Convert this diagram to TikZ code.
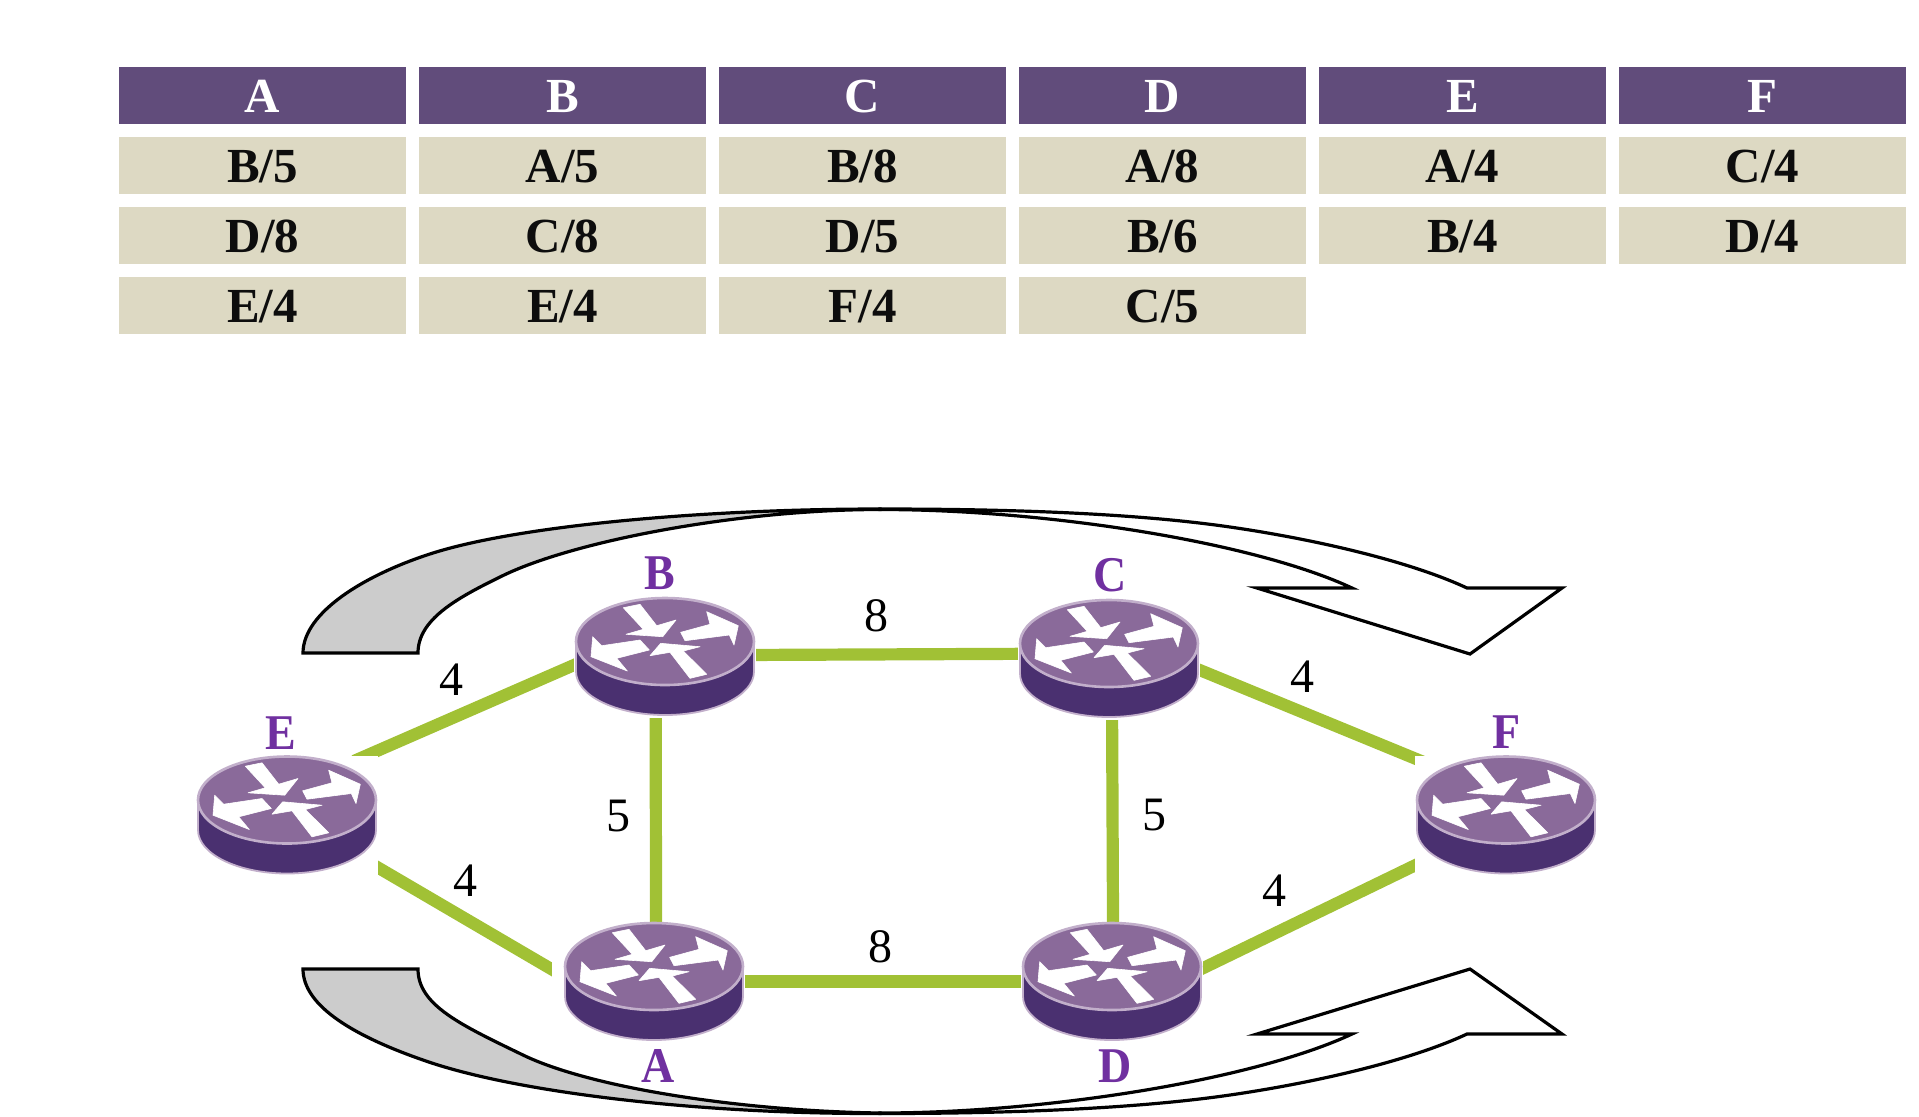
\documentclass[tikz,border=0pt]{standalone}
\usepackage{graphicx}
\usepackage{fontspec}
\setmainfont{Liberation Serif}
\definecolor{headfill}{HTML}{614C7B}
\definecolor{cellfill}{HTML}{DDD9C3}
\definecolor{linkgreen}{HTML}{A1C135}
\definecolor{namepurple}{HTML}{7030A0}
\definecolor{discside}{HTML}{4A3070}
\definecolor{disctop}{HTML}{8A6A9A}
\definecolor{discrim}{HTML}{C2AFCB}
\tikzset{
  x=0.5pt, y=-0.5pt,
  tablecell/.style={rectangle, minimum width=143.5pt, minimum height=28.5pt, inner sep=0pt,
    text height=17.4pt, text depth=0pt, font=\fontsize{24.5}{24.5}\selectfont\bfseries},
  headcell/.style={tablecell, fill=headfill, text=white},
  bodycell/.style={tablecell, fill=cellfill, text=black!95},
  routerbox/.style={rectangle, minimum width=89pt, minimum height=58.5pt, inner sep=0pt},
  link/.style={draw=linkgreen, line width=6.1pt},
  reach/.style={shorten <=-6pt, shorten >=-6pt},
  routername/.style={inner sep=0pt, text=namepurple, font=\fontsize{25}{25}\selectfont\bfseries},
  weight/.style={inner sep=0pt, font=\fontsize{24}{24}\selectfont},
  sweep/.style={draw=black, line width=1.6pt, line join=miter},
  routerdisc/.pic={
    \path[fill=white] (-91,-44) rectangle (91,76.5);
    \path[fill=discside, draw=discrim, line width=0.9pt]
      (-89,0) -- (-89,30) .. controls (-89,54) and (-49,73.5) .. (0,73.5)
      .. controls (49,73.5) and (89,54) .. (89,30) -- (89,0) -- cycle;
    \path[fill=disctop, draw=discrim, line width=1.3pt] (0,0) ellipse[x radius=89, y radius=43.5];
    \path[fill=white, draw=white, line width=0.3pt, line join=round]
      (-41.7,-33.8) -- (-25,-37.2) -- (-8.3,-15.8) -- (11,-21.5) -- (-2.3,-4.8) -- (-39,-7.2) -- (-21.7,-12.2) -- cycle
      (15.7,-9.2) -- (45,-17.2) -- (41.7,-29.8) -- (73.3,-15.8) -- (69,3.5) -- (64.3,-6.5) -- (20,-0.8) -- cycle
      (-72.3,-4.8) -- (-63.3,4.2) -- (-25,-1.5) -- (-15.7,8.5) -- (-48.3,16.8) -- (-37.7,29.5) -- (-74,15.2) -- cycle
      (-15,14.2) -- (-4.3,1.8) -- (35,5.2) -- (18.3,9.5) -- (41.7,32.8) -- (25,36.8) -- (5,10.8) -- cycle;
  }
}
\begin{document}
\begin{tikzpicture}
\useasboundingbox (0,0) rectangle (1919,1116);

% Adjacency table: one column per router, neighbour/cost in each cell
\node[headcell] (hA) at (262.5,95) {A};
\node[headcell] (hB) at (562.5,95) {B};
\node[headcell] (hC) at (862.5,95) {C};
\node[headcell] (hD) at (1162.5,95) {D};
\node[headcell] (hE) at (1462.5,95) {E};
\node[headcell] (hF) at (1762.5,95) {F};

\node[bodycell] (a1) at (262.5,165.5) {B/5};
\node[bodycell] (a2) at (262.5,235.5) {D/8};
\node[bodycell] (a3) at (262.5,305.5) {E/4};
\node[bodycell] (b1) at (562.5,165.5) {A/5};
\node[bodycell] (b2) at (562.5,235.5) {C/8};
\node[bodycell] (b3) at (562.5,305.5) {E/4};
\node[bodycell] (c1) at (862.5,165.5) {B/8};
\node[bodycell] (c2) at (862.5,235.5) {D/5};
\node[bodycell] (c3) at (862.5,305.5) {F/4};
\node[bodycell] (d1) at (1162.5,165.5) {A/8};
\node[bodycell] (d2) at (1162.5,235.5) {B/6};
\node[bodycell] (d3) at (1162.5,305.5) {C/5};
\node[bodycell] (e1) at (1462.5,165.5) {A/4};
\node[bodycell] (e2) at (1462.5,235.5) {B/4};
\node[bodycell] (f1) at (1762.5,165.5) {C/4};
\node[bodycell] (f2) at (1762.5,235.5) {D/4};

% Router footprints, used as connector ends
\node[routerbox] (A) at (654,981.5) {};
\node[routerbox] (B) at (665,656.5) {};
\node[routerbox] (C) at (1109,658.5) {};
\node[routerbox] (D) at (1112,981.5) {};
\node[routerbox] (E) at (287,815) {};
\node[routerbox] (F) at (1506,815) {};

% Links; their ends run under the white ground of each router
\draw[link, reach] (E.37.2) -- (B.185);
\draw[link, reach] (B.1.3) -- (C.177.4);
\draw[link, reach] (B.261.3) -- (A.88);
\draw[link, reach] (C.273.9) -- (D.89);
\draw[link, reach] (A.east) -- (D.west);
\draw[link, reach] (C.353.9) -- (F.148.8);
\draw[link, reach] (D.8.6) -- (F.209.3);
\draw[link, reach] (E.330.7) -- (A.177.1);

% Router discs on top of the link ends
\fill[white] (552,935) rectangle (570,1000);
\pic at ([yshift=7.5pt]A.center) {routerdisc};
\pic at ([yshift=7.5pt]B.center) {routerdisc};
\pic at ([yshift=7.5pt]C.center) {routerdisc};
\pic at ([yshift=7.5pt]D.center) {routerdisc};
\pic at ([yshift=7.5pt]E.center) {routerdisc};
\pic at ([yshift=7.5pt]F.center) {routerdisc};

% Upper flooding arrow: grey tail, then white head
\path[sweep, fill=black!20]
  (303,653) .. controls (303,612) and (366.5,574) .. (433,553)
  .. controls (518.5,526) and (700,509) .. (880,509)
  -- (880,509.5) .. controls (740,509.5) and (571.5,541) .. (500,577)
  .. controls (455,599) and (418,620) .. (418,653) -- cycle;
\path[sweep, fill=white]
  (880,509) .. controls (1000,509) and (1130,512.5) .. (1230,527)
  .. controls (1310,538.6) and (1407,560) .. (1467,588)
  -- (1562,588) -- (1470,654) -- (1257,588) -- (1352,588)
  .. controls (1256,543) and (1050,509.5) .. (880,509.5) -- cycle;

% Lower flooding arrow
\path[sweep, fill=black!20]
  (303,969) .. controls (303,1007) and (357,1037) .. (423,1060)
  .. controls (510,1091) and (690,1114) .. (880,1113.5)
  -- (880,1113) .. controls (740,1111) and (590,1087.5) .. (523,1055)
  .. controls (460,1024.5) and (418,1005) .. (418,969) -- cycle;
\path[sweep, fill=white]
  (880,1113.5) .. controls (1000,1113.5) and (1130,1109.5) .. (1230,1095)
  .. controls (1310,1083.4) and (1407,1062) .. (1467,1034)
  -- (1562,1034) -- (1470,969) -- (1257,1034) -- (1352,1034)
  .. controls (1256,1079) and (1050,1113) .. (880,1113) -- cycle;

% Router names
\node[routername] (nameA) at (658,1066) {\scalebox{.92}[1]{A}};
\node[routername] (nameB) at (659.5,573) {\scalebox{.92}[1]{B}};
\node[routername] (nameC) at (1110,575.5) {\scalebox{.92}[1]{C}};
\node[routername] (nameD) at (1115,1066) {\scalebox{.92}[1]{D}};
\node[routername] (nameE) at (281,733) {\scalebox{.92}[1]{E}};
\node[routername] (nameF) at (1506.5,732.5) {\scalebox{.92}[1]{F}};

% Link costs
\node[weight] (wEB) at (451,680) {4};
\node[weight] (wBC) at (876,616) {8};
\node[weight] (wCF) at (1302,677) {4};
\node[weight] (wBA) at (618,816) {5};
\node[weight] (wCD) at (1154,815) {5};
\node[weight] (wEA) at (465,881) {4};
\node[weight] (wAD) at (880,946.5) {8};
\node[weight] (wDF) at (1274,891) {4};
\end{tikzpicture}
\end{document}
